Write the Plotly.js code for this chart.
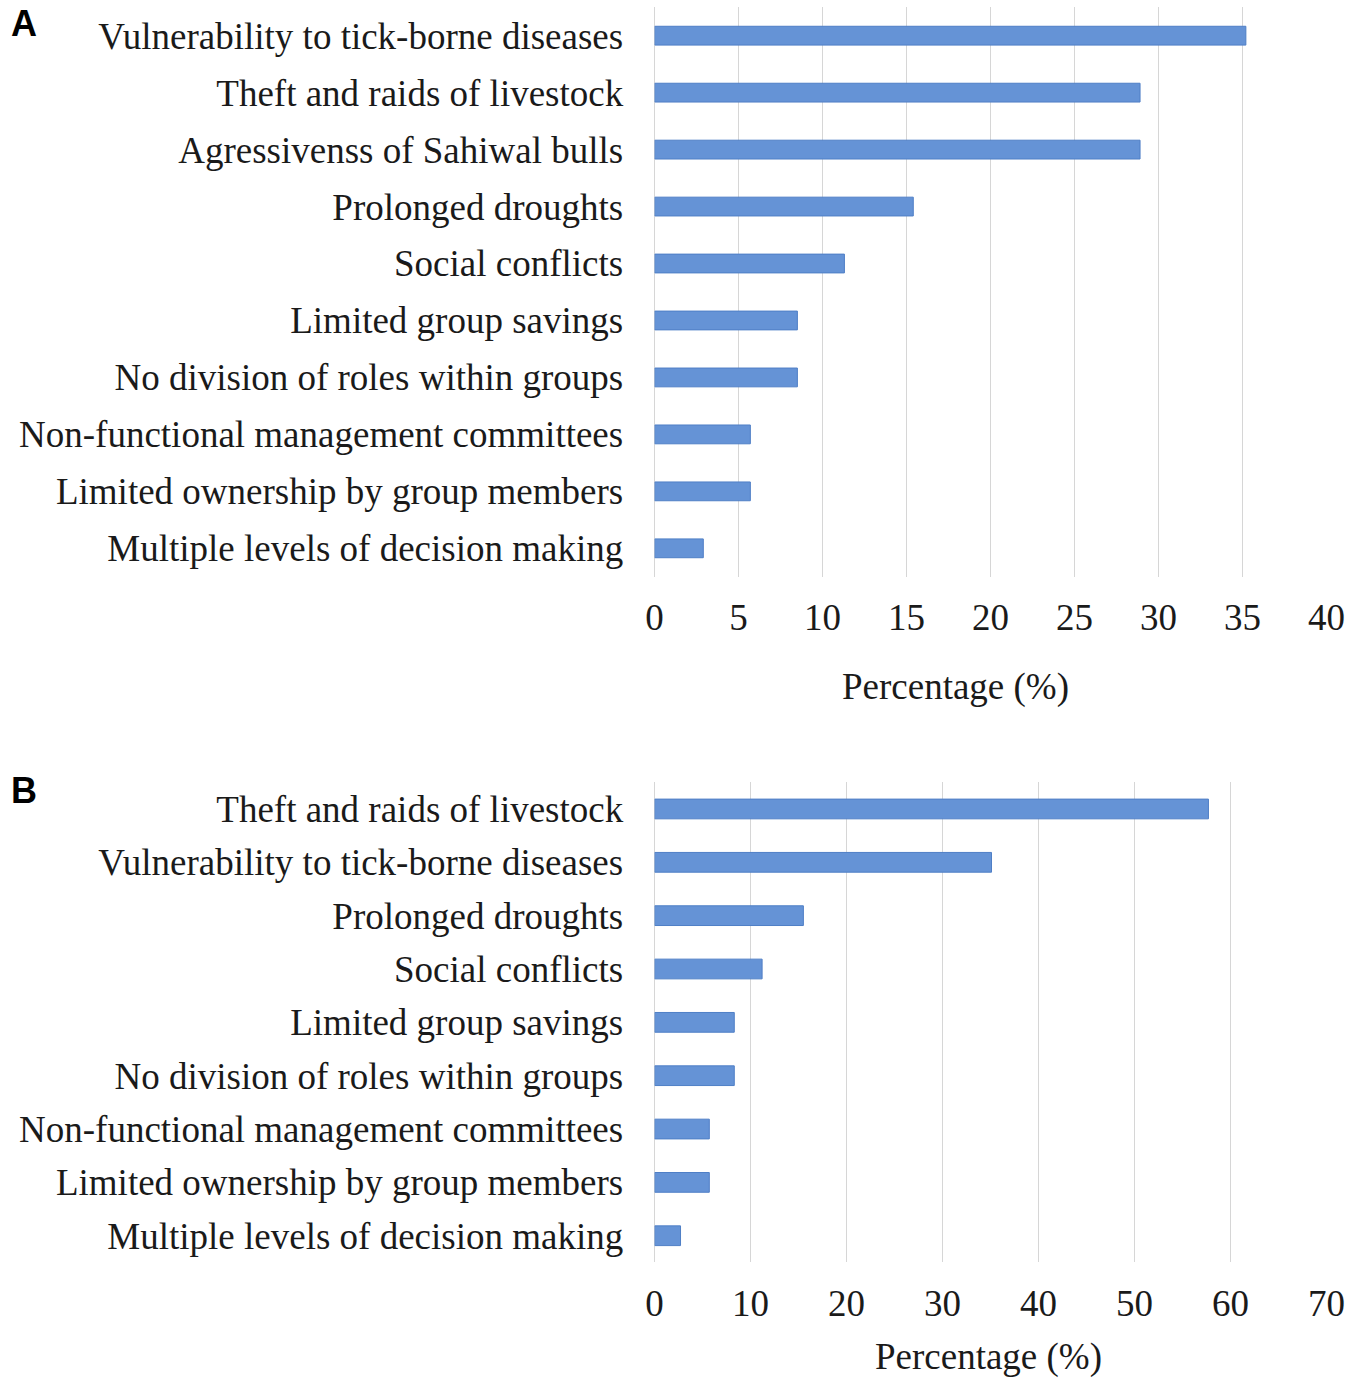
<!DOCTYPE html>
<html>
<head>
<meta charset="utf-8">
<script src="https://cdn.plot.ly/plotly-3.0.1.min.js"></script>
<style>
  html, body { margin: 0; padding: 0; background: #fff; }
  #chart { width: 1354px; height: 1396px; }
</style>
</head>
<body>
<div id="chart"></div>
<script>
// Panel A: constraints, top to bottom
var catsA = [
  "Vulnerability to tick-borne diseases",
  "Theft and raids of livestock",
  "Agressivenss of Sahiwal bulls",
  "Prolonged droughts",
  "Social conflicts",
  "Limited group savings",
  "No division of roles within groups",
  "Non-functional management committees",
  "Limited ownership by group members",
  "Multiple levels of decision making"
];
var valsA = [35.2, 28.9, 28.9, 15.4, 11.3, 8.5, 8.5, 5.7, 5.7, 2.9];

// Panel B
var catsB = [
  "Theft and raids of livestock",
  "Vulnerability to tick-borne diseases",
  "Prolonged droughts",
  "Social conflicts",
  "Limited group savings",
  "No division of roles within groups",
  "Non-functional management committees",
  "Limited ownership by group members",
  "Multiple levels of decision making"
];
var valsB = [57.7, 35.1, 15.5, 11.2, 8.3, 8.3, 5.7, 5.7, 2.7];

var ticksA = [0, 5, 10, 15, 20, 25, 30, 35, 40];
var ticksB = [0, 10, 20, 30, 40, 50, 60, 70];

var W = 1354, H = 1396;
var serif = "'Liberation Serif', 'Times New Roman', serif";
var barFill = "#6593d6";
var barEdge = "#4f7fc6";
var grid = "#d6d6d6";

function py(top, bottom) {
  // pixel rows (from top) to paper fraction domain
  return [1 - bottom / H, 1 - top / H];
}

var xdom = [654.6 / W, 1326.5 / W];

var traceA = {
  type: "bar", orientation: "h",
  x: valsA, y: catsA,
  width: 0.33,
  marker: {color: barFill, line: {color: barEdge, width: 1}},
  xaxis: "x", yaxis: "y",
  hoverinfo: "x+y"
};
var traceB = {
  type: "bar", orientation: "h",
  x: valsB, y: catsB,
  width: 0.37,
  marker: {color: barFill, line: {color: barEdge, width: 1}},
  xaxis: "x2", yaxis: "y2",
  hoverinfo: "x+y"
};

function xaxisFor(ticks, anchor) {
  return {
    domain: xdom, anchor: anchor,
    range: [0, ticks[ticks.length - 1]],
    tickvals: ticks, ticktext: ticks.map(String),
    showgrid: true, gridcolor: grid, gridwidth: 1.5,
    zeroline: true, zerolinecolor: grid, zerolinewidth: 1.5,
    showline: false,
    ticks: "outside", ticklen: 8, tickcolor: "rgba(0,0,0,0)",
    tickfont: {family: serif, size: 37, color: "#1a1a1a"},
    fixedrange: true
  };
}
function yaxisFor(cats, dom, anchor) {
  return {
    domain: dom, anchor: anchor,
    type: "category",
    categoryorder: "array", categoryarray: cats,
    autorange: "reversed",
    showgrid: false, zeroline: false, showline: false,
    ticks: "outside", ticklen: 23, tickcolor: "rgba(0,0,0,0)",
    tickfont: {family: serif, size: 37, color: "#1a1a1a"},
    fixedrange: true
  };
}

var layout = {
  width: W, height: H,
  margin: {l: 0, r: 0, t: 0, b: 0},
  paper_bgcolor: "#fff", plot_bgcolor: "#fff",
  showlegend: false,
  bargap: 0,
  xaxis: xaxisFor(ticksA, "y"),
  yaxis: yaxisFor(catsA, py(7.2, 576.8), "x"),
  xaxis2: xaxisFor(ticksB, "y2"),
  yaxis2: yaxisFor(catsB, py(782.3, 1262.4), "x2"),
  annotations: [
    {text: "Percentage (%)", xref: "paper", yref: "paper",
     x: 955 / W, y: 1 - 687 / H, xanchor: "center", yanchor: "middle",
     showarrow: false, font: {family: serif, size: 37, color: "#1a1a1a"}},
    {text: "Percentage (%)", xref: "paper", yref: "paper",
     x: 988 / W, y: 1 - 1357 / H, xanchor: "center", yanchor: "middle",
     showarrow: false, font: {family: serif, size: 37, color: "#1a1a1a"}},
    {text: "<b>A</b>", xref: "paper", yref: "paper",
     x: 10 / W, y: 1 - 24 / H, xanchor: "left", yanchor: "middle",
     borderpad: 0,
     showarrow: false, font: {family: "'Liberation Sans', Arial, sans-serif", size: 36, color: "#000"}},
    {text: "<b>B</b>", xref: "paper", yref: "paper",
     x: 10 / W, y: 1 - 790 / H, xanchor: "left", yanchor: "middle",
     borderpad: 0,
     showarrow: false, font: {family: "'Liberation Sans', Arial, sans-serif", size: 36, color: "#000"}}
  ]
};

Plotly.newPlot("chart", [traceA, traceB], layout, {displayModeBar: false, staticPlot: true});
</script>
</body>
</html>
